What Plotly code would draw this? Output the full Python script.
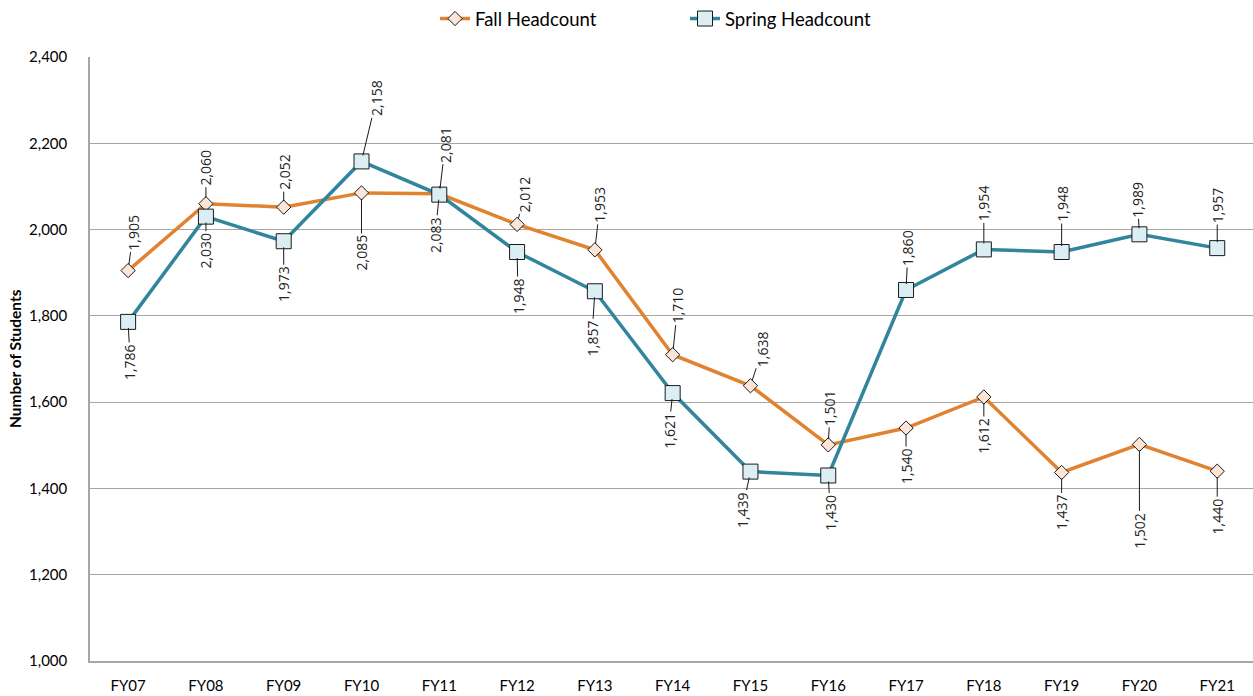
import plotly.graph_objects as go

years = ["FY07", "FY08", "FY09", "FY10", "FY11", "FY12", "FY13", "FY14",
         "FY15", "FY16", "FY17", "FY18", "FY19", "FY20", "FY21"]
fall = [1905, 2060, 2052, 2085, 2083, 2012, 1953, 1710, 1638, 1501, 1540, 1612, 1437, 1502, 1440]
spring = [1786, 2030, 1973, 2158, 2081, 1948, 1857, 1621, 1439, 1430, 1860, 1954, 1948, 1989, 1957]
y_ticks = [1000, 1200, 1400, 1600, 1800, 2000, 2200, 2400]

# label offsets (pixels) of each data label from its point
fall_off = [(5, -38), (0, -36), (0, -35), (0, 60), (-4, 41), (7, -30), (5, -45), (5, -49),
            (12, -37), (2, -37), (0, 38), (0, 39), (0, 40), (0, 86), (0, 45)]
spring_off = [(2, 40), (0, 34), (0, 43), (15, -63), (6, -50), (1, 44), (-3, 47), (-4, 38),
              (-8, 38), (2, 37), (2, -42), (0, -46), (0, -48), (-2, -35), (0, -43)]

ORANGE = "#E0822F"
TEAL = "#31859C"

fig = go.Figure()
fig.add_trace(go.Scatter(
    x=years, y=fall, name="Fall Headcount", mode="lines+markers",
    line=dict(color=ORANGE, width=3.5),
    marker=dict(symbol="diamond", size=11, color="#FCE4D6", line=dict(color="#1a1a1a", width=1)),
))
fig.add_trace(go.Scatter(
    x=years, y=spring, name="Spring Headcount", mode="lines+markers",
    line=dict(color=TEAL, width=3.5),
    marker=dict(symbol="square", size=15, color="#DAEEF3", line=dict(color="#1a1a1a", width=1)),
))

for series, offs in ((fall, fall_off), (spring, spring_off)):
    for xv, yv, (dx, dy) in zip(years, series, offs):
        fig.add_annotation(
            x=xv, y=yv, text=f"{yv:,}", textangle=-90,
            showarrow=True, arrowhead=0, arrowwidth=1, arrowcolor="#1a1a1a",
            ax=dx, ay=dy, standoff=6,
            font=dict(family="Open Sans", size=14, color="#222"),
        )

fig.add_annotation(
    xref="paper", yref="paper", x=-75 / 1163, y=0.5, text="<b>Number of Students</b>",
    textangle=-90, showarrow=False, xanchor="center", yanchor="middle",
    font=dict(family="Lato", size=15.5, color="#000"),
)

fig.update_layout(
    width=1253, height=696,
    margin=dict(l=90, r=0, t=55, b=35),
    paper_bgcolor="white", plot_bgcolor="white",
    font=dict(family="Lato", size=15, color="#000"),
    showlegend=True,
    legend=dict(orientation="h", x=(435 - 90) / 1163, xanchor="left", y=1.063, yanchor="middle",
                font=dict(family="Lato", size=18.5, color="#000"), itemwidth=30,
                entrywidth=205, entrywidthmode="pixels"),
)
fig.update_xaxes(
    type="category", range=[-0.49, 14.46],
    showline=True, linecolor="#A6A6A6", linewidth=1.5,
    showgrid=False, ticks="", ticklabelstandoff=10,
    tickfont=dict(family="Lato", size=15),
)
fig.update_yaxes(
    range=[1000, 2400], tickvals=y_ticks, ticktext=[f"{v:,}" for v in y_ticks],
    showline=True, linecolor="#A6A6A6", linewidth=1.5,
    showgrid=True, gridcolor="#A6A6A6", gridwidth=1.2,
    ticks="", ticklabelstandoff=18, zeroline=False,
    tickfont=dict(family="Lato", size=15),
)

fig.write_html(
    "out.html",
    config={"displayModeBar": False},
    post_script="document.body.style.margin='0';document.body.style.overflow='hidden';",
)
